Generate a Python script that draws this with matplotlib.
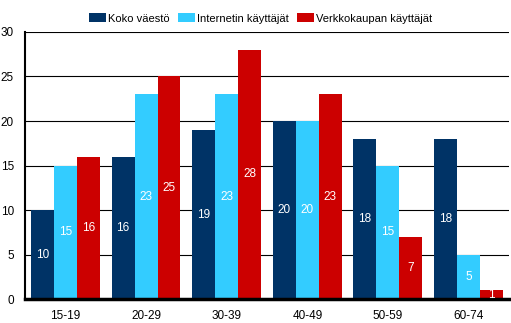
import matplotlib
matplotlib.use("Agg")
import matplotlib.pyplot as plt
import numpy as np

ages = ["15-19", "20-29", "30-39", "40-49", "50-59", "60-74"]
koko = [10, 16, 19, 20, 18, 18]
internet = [15, 23, 23, 20, 15, 5]
verkko = [16, 25, 28, 23, 7, 1]

series = [
    ("Koko väestö", koko, "#003366"),
    ("Internetin käyttäjät", internet, "#33ccff"),
    ("Verkkokaupan käyttäjät", verkko, "#cc0000"),
]

plt.rcParams["font.family"] = ["Liberation Sans", "DejaVu Sans"]

fig = plt.figure(figsize=(5.11, 3.23), dpi=100)
ax = fig.add_axes([0.049, 0.074, 0.947, 0.827])

x = np.arange(len(ages))
w = 0.285
for i, (name, vals, col) in enumerate(series):
    pos = x + (i - 1) * w
    bars = ax.bar(pos, vals, w, color=col, label=name, zorder=2)
    for b, v in zip(bars, vals):
        ax.text(b.get_x() + b.get_width() / 2, v / 2, str(v),
                ha="center", va="center", color="white", fontsize=8.5, zorder=3)

ax.set_xlim(-0.5, len(ages) - 0.5)
ax.set_ylim(0, 30)
ax.set_yticks(range(0, 31, 5))
ax.set_xticks(x)
ax.set_xticklabels(ages)
ax.yaxis.grid(True, color="black", linewidth=0.8, zorder=0)
ax.set_axisbelow(True)
for s in ["top", "right"]:
    ax.spines[s].set_visible(False)
ax.spines["left"].set_linewidth(1.5)
ax.spines["bottom"].set_linewidth(2.5)
ax.tick_params(axis="both", length=0, labelsize=8.5)
ax.tick_params(axis="x", pad=8)
ax.tick_params(axis="y", pad=8)

fig.legend(loc="upper center", bbox_to_anchor=(0.51, 0.99), ncol=3, frameon=False,
           fontsize=8, handlelength=1.5, handleheight=0.9, handletextpad=0.15,
           columnspacing=0.8)

fig.savefig("out.png", dpi=100)
